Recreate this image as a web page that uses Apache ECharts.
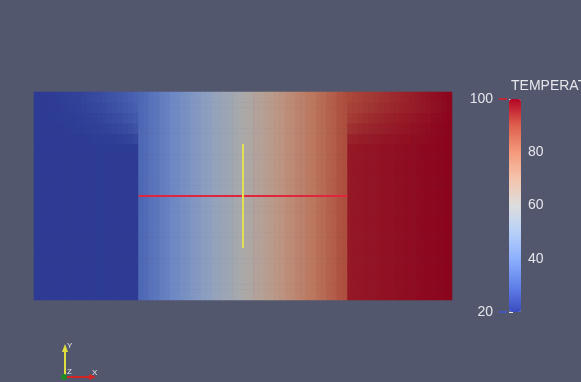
<!DOCTYPE html>
<html>
<head>
<meta charset="utf-8">
<script src="https://cdn.jsdelivr.net/npm/echarts/dist/echarts.min.js"></script>
<style>
  html, body { margin: 0; padding: 0; background: #52576e; }
  #chart_temp { width: 581px; height: 382px; }
</style>
</head>
<body>
<div id="chart_temp"></div>
<script>
  // temperature, 80 columns across (x 0..2), bands of rows (y 0..1)
  const leftB38 = [20.0, 20.1, 20.2, 20.3, 20.5, 20.8, 21.1, 21.4, 21.8, 22.3, 22.8, 23.3, 23.9, 24.6, 25.3, 26.0, 26.8, 27.7, 28.6, 29.5]
  const leftB36 = [20.0, 20.0, 20.1, 20.2, 20.3, 20.5, 20.7, 21.0, 21.3, 21.7, 22.1, 22.6, 23.1, 23.7, 24.4, 25.1, 25.9, 26.8, 27.7, 28.7]
  const leftB34 = [20, 20, 20, 20.1, 20.2, 20.3, 20.4, 20.6, 20.8, 21.1, 21.4, 21.8, 22.2, 22.7, 23.2, 23.8, 24.5, 25.3, 26.2, 27.3]
  const leftB32 = [20, 20, 20, 20, 20, 20.1, 20.2, 20.3, 20.4, 20.6, 20.8, 21.0, 21.3, 21.6, 22.0, 22.5, 23.0, 23.7, 24.5, 25.5]
  const leftB30 = [20, 20, 20, 20, 20, 20, 20, 20, 20, 20, 20.1, 20.2, 20.3, 20.4, 20.6, 20.8, 21.1, 21.5, 22.0, 22.8]
  const leftBottom = [20, 20, 20, 20, 20, 20, 20, 20, 20, 20, 20, 20, 20, 20, 20, 20, 20, 20, 20, 20]
  const middleBand = [31, 32, 34, 35, 37, 38, 40, 41, 43, 44, 46, 47, 49, 50, 52, 53, 55, 56, 58, 59,
    61, 62, 64, 65, 67, 68, 70, 71, 73, 74, 76, 77, 79, 80, 82, 83, 85, 86, 88, 89]
  const rightB38 = [90.3, 90.8, 91.3, 91.8, 92.3, 92.8, 93.3, 93.8, 94.3, 94.8, 95.3, 95.8, 96.3, 96.8, 97.3, 97.8, 98.3, 98.8, 99.3, 99.8]
  const rightB36 = [91.0, 91.5, 92.0, 92.5, 93.0, 93.5, 94.0, 94.4, 94.8, 95.2, 95.6, 96.0, 96.4, 96.8, 97.2, 97.6, 98.0, 98.5, 99.0, 99.6]
  const rightB34 = [92.0, 92.6, 93.2, 93.7, 94.2, 94.7, 95.1, 95.5, 95.9, 96.3, 96.6, 96.9, 97.2, 97.5, 97.9, 98.2, 98.6, 99.0, 99.4, 99.8]
  const rightB32 = [93.5, 94.1, 94.6, 95.0, 95.4, 95.8, 96.1, 96.4, 96.7, 97.0, 97.3, 97.6, 97.9, 98.2, 98.5, 98.8, 99.1, 99.4, 99.7, 99.9]
  const rightB30 = [95.5, 95.9, 96.2, 96.5, 96.8, 97.0, 97.2, 97.4, 97.6, 97.8, 98.0, 98.2, 98.4, 98.6, 98.8, 99.0, 99.2, 99.5, 99.7, 99.9]
  const rightBottom = [97.0, 97.2, 97.3, 97.5, 97.6, 97.8, 97.9, 98.1, 98.2, 98.4, 98.5, 98.7, 98.8, 99.0, 99.1, 99.3, 99.4, 99.6, 99.7, 99.9]
  // which band each of the 40 rows uses (bottom row first)
  const rowBand = [
    'bottom', 'bottom', 'bottom', 'bottom', 'bottom', 'bottom', 'bottom', 'bottom', 'bottom', 'bottom',
    'bottom', 'bottom', 'bottom', 'bottom', 'bottom', 'bottom', 'bottom', 'bottom', 'bottom', 'bottom',
    'bottom', 'bottom', 'bottom', 'bottom', 'bottom', 'bottom', 'bottom', 'bottom', 'bottom', 'bottom',
    'b30', 'b30', 'b32', 'b32', 'b34', 'b34', 'b36', 'b36', 'b38', 'b38']

  // probe lines (domain coords)
  const redProbeX = [0.5, 1.5]
  const redProbeY = [0.5, 0.5]
  const yellowProbeX = [1.0, 1.0]
  const yellowProbeY = [0.25, 0.75]

  const scalarMin = 20
  const scalarMax = 100

  let bands = {
    b38: leftB38.concat(middleBand, rightB38),
    b36: leftB36.concat(middleBand, rightB36),
    b34: leftB34.concat(middleBand, rightB34),
    b32: leftB32.concat(middleBand, rightB32),
    b30: leftB30.concat(middleBand, rightB30),
    bottom: leftBottom.concat(middleBand, rightBottom)
  }
  let cols = bands.bottom.map((t, i) => i)
  let rows = rowBand.map((b, j) => j)
  let cells = []
  rowBand.forEach((b, j) => {
    bands[b].forEach((t, i) => {
      cells.push([i, j, t])
    })
  })

  // cool to warm, pure for the bar, shaded for the surface
  const coolWarm = ['#3b4cc0', '#6282ea', '#8db0fe', '#b8d0f9', '#dddddd', '#f5c4ad', '#f49a7b', '#de604d', '#b40426']
  const shaded = ['#2d3b94', '#4b64b4', '#6d88c4', '#8ea0c0', '#aaaaaa', '#bd9785', '#bc775f', '#ab4a3b', '#8b031d']

  const textColor = '#e6e6ea'
  const font = 'Liberation Sans'

  let chart = echarts.init(document.getElementById('chart_temp'))
  let options = {
    backgroundColor: '#52576e',
    animation: false,
    title: {
      text: 'TEMPERATURE',
      left: 511,
      top: 79,
      padding: 0,
      textStyle: { color: textColor, fontSize: 14, fontWeight: 'normal', fontFamily: font }
    },
    grid: [
      { left: 34, top: 92, width: 418, height: 208 },
      { left: 34, top: 92, width: 418, height: 208 },
      { left: 509, top: 99, width: 12, height: 213 }
    ],
    xAxis: [
      { type: 'category', gridIndex: 0, data: cols, show: false },
      { type: 'value', gridIndex: 1, min: 0, max: 2, show: false },
      { type: 'value', gridIndex: 2, show: false }
    ],
    yAxis: [
      { type: 'category', gridIndex: 0, data: rows, show: false },
      { type: 'value', gridIndex: 1, min: 0, max: 1, show: false },
      {
        type: 'value',
        gridIndex: 2,
        position: 'right',
        min: scalarMin,
        max: scalarMax,
        interval: 20,
        axisLine: { show: false },
        splitLine: { show: false },
        axisTick: { show: true, length: 4, lineStyle: { color: textColor } },
        minorTick: { show: true, splitNumber: 4, length: 4, lineStyle: { color: textColor } },
        axisLabel: {
          margin: 7,
          color: textColor,
          fontSize: 14,
          fontFamily: font,
          formatter: (v) => (v === scalarMin || v === scalarMax) ? '' : String(v)
        }
      },
      {
        type: 'value',
        gridIndex: 2,
        position: 'left',
        min: scalarMin,
        max: scalarMax,
        interval: 80,
        axisLine: { show: false },
        splitLine: { show: false },
        axisTick: { show: false },
        axisLabel: { margin: 16, color: textColor, fontSize: 14, fontFamily: font }
      }
    ],
    visualMap: [
      {
        type: 'continuous',
        show: false,
        min: scalarMin,
        max: scalarMax,
        seriesIndex: 0,
        dimension: 2,
        inRange: { color: shaded }
      },
      {
        type: 'continuous',
        show: true,
        min: scalarMin,
        max: scalarMax,
        seriesIndex: 3,
        left: 509,
        top: 99,
        padding: 0,
        itemWidth: 12,
        itemHeight: 213,
        calculable: false,
        hoverLink: false,
        inRange: { color: coolWarm }
      }
    ],
    series: [
      {
        type: 'heatmap',
        xAxisIndex: 0,
        yAxisIndex: 0,
        data: cells,
        progressive: 0,
        silent: true,
        itemStyle: { borderWidth: 0 },
        emphasis: { disabled: true }
      },
      {
        type: 'line',
        xAxisIndex: 1,
        yAxisIndex: 1,
        data: redProbeX.map((x, k) => [x, redProbeY[k]]),
        symbol: 'none',
        silent: true,
        lineStyle: { color: '#e0263c', width: 2 }
      },
      {
        type: 'line',
        xAxisIndex: 1,
        yAxisIndex: 1,
        data: yellowProbeX.map((x, k) => [x, yellowProbeY[k]]),
        symbol: 'none',
        silent: true,
        lineStyle: { color: '#e2e050', width: 2 }
      },
      {
        type: 'scatter',
        xAxisIndex: 2,
        yAxisIndex: 2,
        data: []
      }
    ],
    graphic: [
      // range marks next to 100 and 20
      { type: 'line', shape: { x1: 499, y1: 99, x2: 507, y2: 99 }, style: { stroke: '#c0283a', lineWidth: 2 } },
      { type: 'line', shape: { x1: 499, y1: 312, x2: 507, y2: 312 }, style: { stroke: '#4456c4', lineWidth: 2 } },
      // orientation triad
      { type: 'line', shape: { x1: 65, y1: 377, x2: 65, y2: 350 }, style: { stroke: '#e2e03c', lineWidth: 2 } },
      { type: 'polygon', shape: { points: [[62, 352], [68, 352], [65, 344]] }, style: { fill: '#e2e03c' } },
      { type: 'line', shape: { x1: 65, y1: 377, x2: 90, y2: 377 }, style: { stroke: '#d42424', lineWidth: 2 } },
      { type: 'polygon', shape: { points: [[89, 374], [89, 380], [96, 377]] }, style: { fill: '#d42424' } },
      { type: 'circle', shape: { cx: 64, cy: 377, r: 3 }, style: { fill: '#1e8a28' } },
      { type: 'text', left: 67, top: 342, style: { text: 'Y', fill: textColor, font: '8px Liberation Sans' } },
      { type: 'text', left: 92, top: 369, style: { text: 'X', fill: textColor, font: '8px Liberation Sans' } },
      { type: 'text', left: 67, top: 368, style: { text: 'Z', fill: textColor, font: '8px Liberation Sans' } }
    ]
  }
  chart.setOption(options)
</script>
</body>
</html>
